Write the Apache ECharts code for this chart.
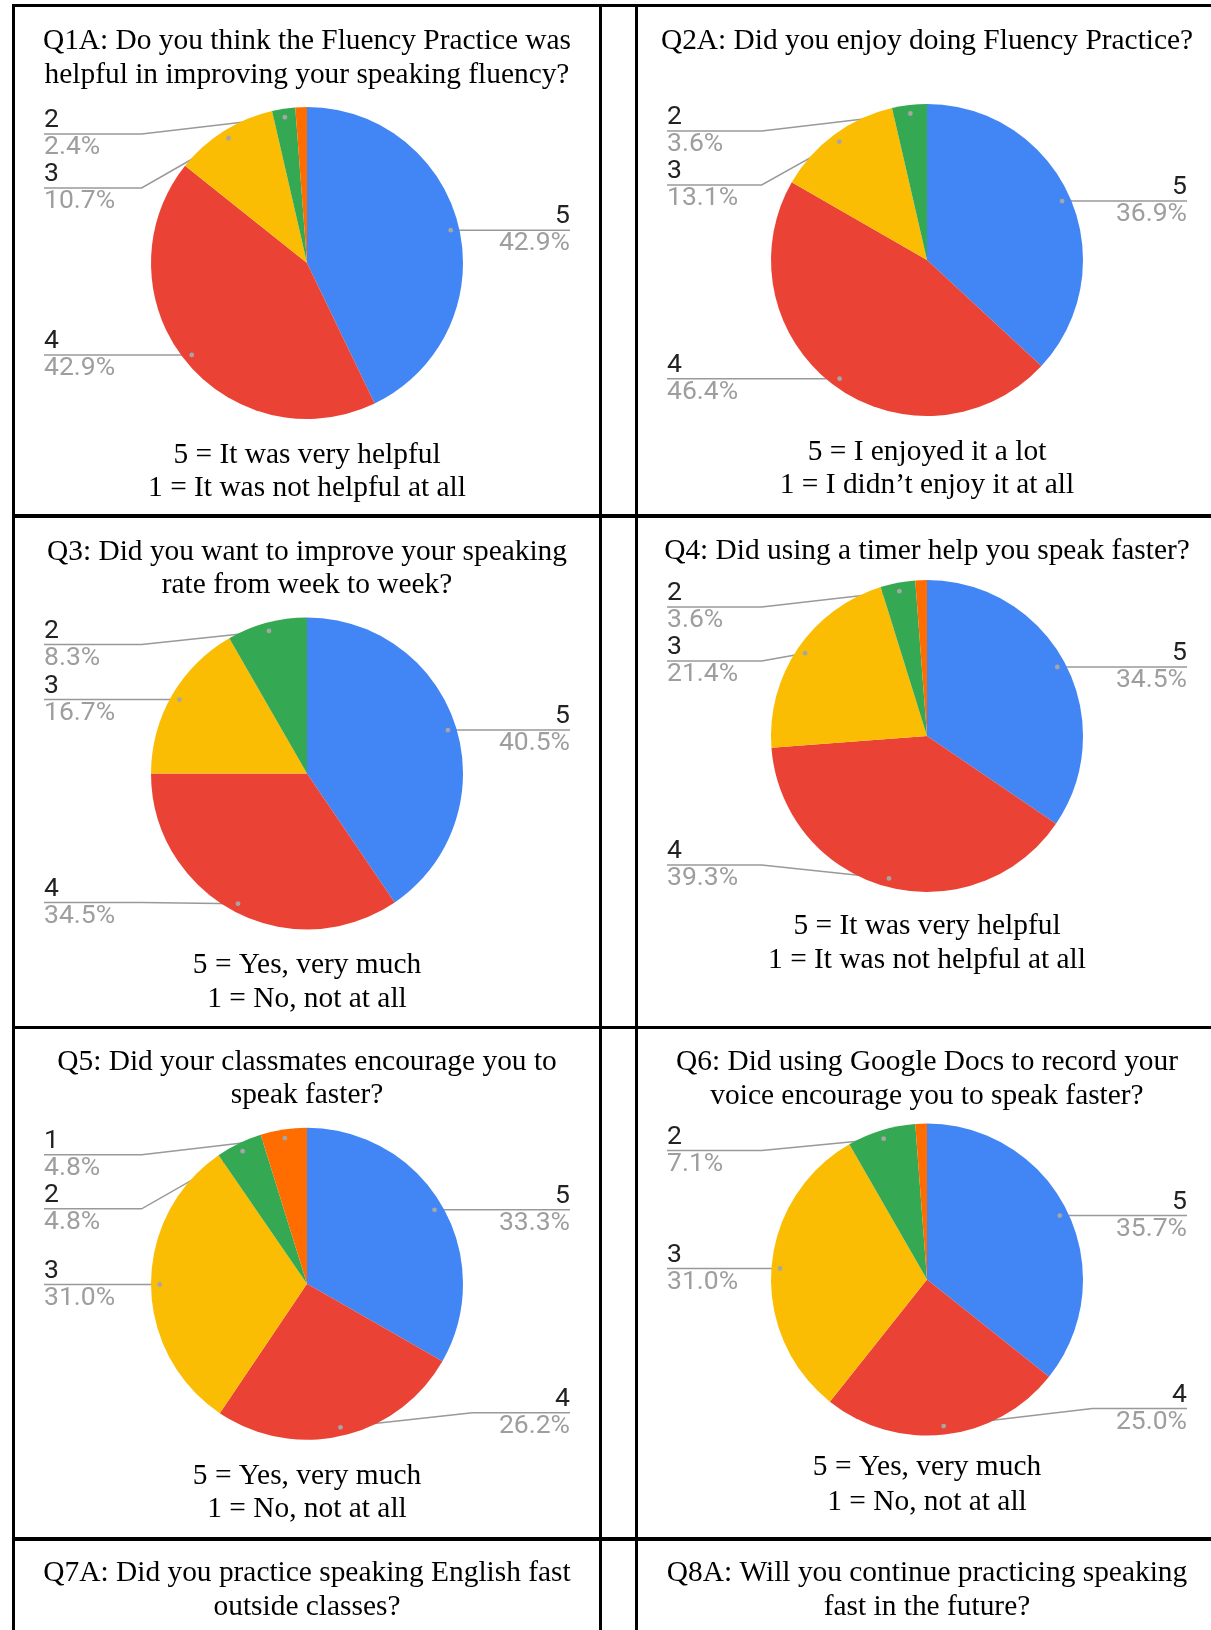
<!DOCTYPE html>
<html>
<head>
<meta charset="utf-8">
<script src="https://cdn.jsdelivr.net/npm/echarts@6/dist/echarts.min.js"></script>
<style>
  html, body { margin: 0; padding: 0; background: #ffffff; }
  #chart { width: 1211px; height: 1630px; }
</style>
</head>
<body>
<div id="chart"></div>
<script>
// Rating categories, in slice order (clockwise from 12 o'clock)
const ratingNames = ['5', '4', '3', '2', '1'];

// Share of answers per rating, in percent
const q1aValues = [42.9, 42.9, 10.7, 2.4, 1.2];
const q2aValues = [36.9, 46.4, 13.1, 3.6, 0];
const q3Values  = [40.5, 34.5, 16.7, 8.3, 0];
const q4Values  = [34.5, 39.3, 21.4, 3.6, 1.2];
const q5Values  = [33.3, 26.2, 31.0, 4.8, 4.8];
const q6Values  = [35.7, 25.0, 31.0, 7.1, 1.2];

// Question texts
const q1aTitle = ['Q1A: Do you think the Fluency Practice was', 'helpful in improving your speaking fluency?'];
const q2aTitle = ['Q2A: Did you enjoy doing Fluency Practice?'];
const q3Title  = ['Q3: Did you want to improve your speaking', 'rate from week to week?'];
const q4Title  = ['Q4: Did using a timer help you speak faster?'];
const q5Title  = ['Q5: Did your classmates encourage you to', 'speak faster?'];
const q6Title  = ['Q6: Did using Google Docs to record your', 'voice encourage you to speak faster?'];
const q7aTitle = ['Q7A: Did you practice speaking English fast', 'outside classes?'];
const q8aTitle = ['Q8A: Will you continue practicing speaking', 'fast in the future?'];

// Scale explanations
const scaleHelpful = ['5 = It was very helpful', '1 = It was not helpful at all'];
const scaleEnjoy   = ['5 = I enjoyed it a lot', '1 = I didn\u2019t enjoy it at all'];
const scaleYesNo   = ['5 = Yes, very much', '1 = No, not at all'];

// ---- styling / layout ----
const sliceColors = ['#4285F4', '#EA4335', '#FBBC04', '#34A853', '#FF6D01'];
const SERIF = '"Liberation Serif", "Times New Roman", serif';
const SANS = 'Roboto, Arial, sans-serif';
const R = 156;             // pie radius
const DOT_RATIO = 0.945;   // leader line starts inside the slice
const ELBOW_RATIO = 1.06;  // where the leader line turns horizontal
const MIN_LABEL_ANGLE = 5; // slices thinner than this stay unlabeled
const LABEL_ROW = 27;      // one text row of a slice label
const LABEL_GAP = 2 * LABEL_ROW;

const COLS = [
  { left: 15, right: 599 },
  { left: 638, right: 1216 }
];

const panels = [
  { values: q1aValues, title: q1aTitle, titleY: [41.5, 74.8], scale: scaleHelpful, scaleY: [455, 488.5], col: 0, cy: 263 },
  { values: q2aValues, title: q2aTitle, titleY: [41.5], scale: scaleEnjoy, scaleY: [452, 485.4], col: 1, cy: 260 },
  { values: q3Values, title: q3Title, titleY: [552, 585], scale: scaleYesNo, scaleY: [965.6, 999], col: 0, cy: 773.4 },
  { values: q4Values, title: q4Title, titleY: [551], scale: scaleHelpful, scaleY: [926, 960.4], col: 1, cy: 736 },
  { values: q5Values, title: q5Title, titleY: [1062, 1095.6], scale: scaleYesNo, scaleY: [1476, 1509], col: 0, cy: 1283.8 },
  { values: q6Values, title: q6Title, titleY: [1062, 1096.6], scale: scaleYesNo, scaleY: [1467.7, 1502], col: 1, cy: 1279.6 },
  { values: null, title: q7aTitle, titleY: [1573.7, 1607], col: 0 },
  { values: null, title: q8aTitle, titleY: [1573.7, 1607], col: 1 }
];

const chart = echarts.init(document.getElementById('chart'), null, { renderer: 'canvas', width: 1211, height: 1630 });

// table rules
const graphics = [];
const hRules = [[5.5, 3], [516, 4], [1027.5, 3], [1539, 4]];
hRules.forEach(([y, w]) => graphics.push({
  type: 'line', shape: { x1: 12, y1: y, x2: 1211, y2: y },
  style: { stroke: '#000', lineWidth: w }, silent: true, z: 10
}));
[13.5, 600.5, 636.5].forEach(x => graphics.push({
  type: 'line', shape: { x1: x, y1: 4, x2: x, y2: 1630 },
  style: { stroke: '#000', lineWidth: 3 }, silent: true, z: 10
}));

function addText(text, x, y) {
  graphics.push({
    type: 'text', x: x, y: y, silent: true, z: 10,
    style: {
      text: text, fill: '#000', font: '29.4px ' + SERIF,
      align: 'center', verticalAlign: 'middle',
      textAlign: 'center', textVerticalAlign: 'middle'
    }
  });
}

// leader-line start points measured on the rendered pies, and final label rows
const labelDots = {};
let labelTargets = null;

function isLabelled(values, i) {
  const total = values.reduce((a, b) => a + b, 0);
  return values[i] > 0 && values[i] / total * 360 >= MIN_LABEL_ANGLE;
}

function guideLayout(panelIdx, cx, cy, values) {
  return function (params) {
    const pts = params.labelLinePoints;
    if (!pts || !isLabelled(values, params.dataIndex)) return {};
    const key = panelIdx + '_' + params.dataIndex;
    const rect = params.labelRect;
    const onLeft = rect.x + rect.width / 2 < cx;
    const p0 = pts[0];
    const dot = [cx + DOT_RATIO * (p0[0] - cx), cy + DOT_RATIO * (p0[1] - cy)];
    if (!labelTargets) {
      labelDots[key] = { panel: panelIdx, left: onLeft, dot: dot };
      return {};
    }
    const ty = labelTargets[key];
    const h = rect.height;
    const va = params.verticalAlign;
    const anchorY = va === 'top' ? ty - h / 2 : (va === 'bottom' ? ty + h / 2 : ty);
    const elbowX = cx + (onLeft ? -1 : 1) * ELBOW_RATIO * R;
    let elbow = [elbowX, ty];
    if (onLeft ? dot[0] < elbowX : dot[0] > elbowX) elbow = [dot[0], ty];
    const endX = onLeft ? rect.x : rect.x + rect.width;
    return { y: anchorY, labelLinePoints: [dot, elbow, [endX, ty]] };
  };
}

// stack labels on each side: keep them level with their slice where possible,
// otherwise push them apart, inside the pie's vertical extent
function stackLabels() {
  const out = {};
  panels.forEach((p, idx) => {
    if (!p.values) return;
    [true, false].forEach(side => {
      const list = Object.keys(labelDots)
        .filter(k => labelDots[k].panel === idx && labelDots[k].left === side)
        .map(k => ({ key: k, y: labelDots[k].dot[1] }))
        .sort((a, b) => a.y - b.y);
      let minY = p.cy - R + LABEL_ROW;
      list.forEach(it => { it.t = Math.max(it.y, minY); minY = it.t + LABEL_GAP; });
      let maxY = p.cy + R - LABEL_ROW;
      for (let i = list.length - 1; i >= 0; i--) {
        list[i].t = Math.min(list[i].t, maxY);
        maxY = list[i].t - LABEL_GAP;
      }
      list.forEach(it => { out[it.key] = it.t; });
    });
  });
  return out;
}

const series = [];
panels.forEach((p, idx) => {
  const col = COLS[p.col];
  const cx = (col.left + col.right) / 2;
  p.title.forEach((t, i) => addText(t, cx, p.titleY[i]));
  if (p.scale) p.scale.forEach((t, i) => addText(t, cx, p.scaleY[i]));
  if (!p.values) return;
  series.push({
    type: 'pie',
    left: col.left,
    top: p.cy - R,
    width: col.right - col.left,
    height: 2 * R,
    center: ['50%', '50%'],
    radius: R,
    startAngle: 90,
    clockwise: true,
    minShowLabelAngle: MIN_LABEL_ANGLE,
    avoidLabelOverlap: false,
    color: sliceColors,
    itemStyle: { borderWidth: 0 },
    emphasis: { disabled: true },
    silent: true,
    label: {
      show: true,
      position: 'outside',
      alignTo: 'edge',
      edgeDistance: 29,
      distanceToLabelLine: 0,
      formatter: (d) => '{n|' + d.name + '}\n{v|' + d.value.toFixed(1) + '%}',
      rich: {
        n: { fontFamily: SANS, fontSize: 26.5, color: '#222222', lineHeight: LABEL_ROW },
        v: { fontFamily: SANS, fontSize: 26.5, color: '#9e9e9e', lineHeight: LABEL_ROW }
      }
    },
    labelLine: {
      show: true,
      length: R * (DOT_RATIO - 1),
      length2: 0,
      lineStyle: { color: '#999999', width: 1.5 }
    },
    labelLayout: guideLayout(idx, cx, p.cy, p.values),
    data: ratingNames.map((name, i) => ({ name: name, value: p.values[i] }))
  });
});

const option = {
  animation: false,
  backgroundColor: '#ffffff',
  graphic: { elements: graphics },
  series: series
};

// first pass measures where each slice wants its label, second pass stacks them
chart.setOption(option);
labelTargets = stackLabels();
chart.setOption(option, true);

// small markers where each leader line leaves its slice
Object.keys(labelDots).forEach(k => {
  const d = labelDots[k].dot;
  chart.getZr().add(new echarts.graphic.Circle({
    shape: { cx: d[0], cy: d[1], r: 2.4 },
    style: { fill: '#a6a6a6' },
    z: 100, silent: true
  }));
});
</script>
</body>
</html>
